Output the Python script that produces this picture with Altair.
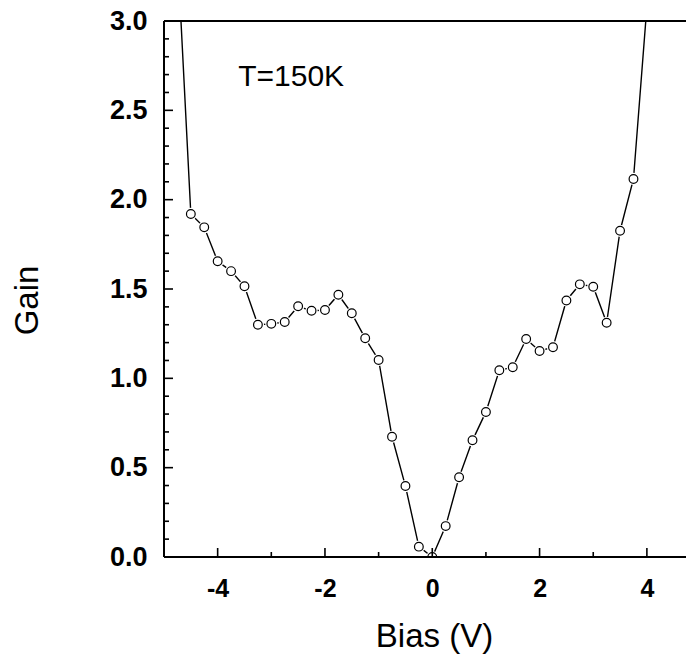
import altair as alt
import pandas as pd

# Data (Bias in V, Gain)
bias = [-4.75, -4.5, -4.25, -4.0, -3.75, -3.5, -3.25, -3.0, -2.75, -2.5, -2.25, -2.0,
        -1.75, -1.5, -1.25, -1.0, -0.75, -0.5, -0.25, 0.0, 0.25, 0.5, 0.75, 1.0,
        1.25, 1.5, 1.75, 2.0, 2.25, 2.5, 2.75, 3.0, 3.25, 3.5, 3.75, 4.0]
gain = [3.39, 1.92, 1.845, 1.655, 1.60, 1.515, 1.30, 1.305, 1.315, 1.403, 1.378, 1.382,
        1.468, 1.364, 1.224, 1.103, 0.673, 0.397, 0.058, 0.0, 0.173, 0.446, 0.653, 0.812,
        1.045, 1.062, 1.220, 1.153, 1.174, 1.436, 1.526, 1.513, 1.311, 1.826, 2.116, 3.08]

x_major = [-4, -2, 0, 2, 4]
x_minor = [-3, -1, 1, 3]
y_labels = [0.0, 0.5, 1.0, 1.5, 2.0, 2.5, 3.0]
y_major = [0.5, 1.0, 1.5, 2.0, 2.5]
y_minor = [0.1, 0.2, 0.3, 0.4, 0.6, 0.7, 0.8, 0.9, 1.1, 1.2, 1.3, 1.4,
           1.6, 1.7, 1.8, 1.9, 2.1, 2.2, 2.3, 2.4, 2.6, 2.7, 2.8, 2.9]

note_x = [-2.63]
note_y = [2.636]
note_text = ["T=150K"]

W, H = 522, 536
FONT = "Liberation Sans"

df = pd.DataFrame({"bias": bias, "gain": gain})
xs = alt.Scale(domain=[-5, 4.729], nice=False, zero=False)
ys = alt.Scale(domain=[0, 3], nice=False, zero=False)

x_axis = alt.Axis(values=x_major, labelExpr="toString(datum.value)", tickSize=0,
                  domain=False, labelPadding=19, labelFontSize=25,
                  labelFontWeight="bold", labelFont=FONT, labelColor="black",
                  grid=False, title="Bias (V)", titleFont=FONT, titleFontSize=33,
                  titleFontWeight="normal", titleColor="black", titleX=270, titleY=89,
                  titleBaseline="alphabetic", titleAlign="center")
y_axis = alt.Axis(values=y_labels, format=".1f", tickSize=0, domain=False,
                  labelPadding=17, labelFontSize=27, labelFontWeight="bold",
                  labelFont=FONT, labelColor="black", grid=False,
                  title="Gain", titleFont=FONT, titleFontSize=33,
                  titleFontWeight="normal", titleColor="black", titleX=-127, titleY=279,
                  titleAngle=-90, titleBaseline="alphabetic", titleAlign="center")

X = lambda f: alt.X(f, scale=xs, axis=x_axis)
Y = lambda f: alt.Y(f, scale=ys, axis=y_axis)

base = alt.Chart(df)
line = base.mark_line(color="black", strokeWidth=1.4, clip=True).encode(
    x=X("bias:Q"), y=Y("gain:Q"))
halo = base.mark_circle(color="white", size=150, opacity=1, clip=True).encode(
    x=X("bias:Q"), y=Y("gain:Q"))
markers = base.mark_point(shape="circle", fill="white", filled=False, stroke="black",
                          strokeWidth=1.2, size=76, opacity=1, fillOpacity=1,
                          clip=True).encode(x=X("bias:Q"), y=Y("gain:Q"))

def xtick(vals, length):
    return alt.Chart(pd.DataFrame({"bias": vals})).mark_rule(
        color="black", strokeWidth=1.6).encode(
        x=X("bias:Q"), y=alt.value(H - length), y2=alt.value(H))

def ytick(vals, length):
    return alt.Chart(pd.DataFrame({"gain": vals})).mark_rule(
        color="black", strokeWidth=1.6).encode(
        y=Y("gain:Q"), x=alt.value(0), x2=alt.value(length))

# plot frame: top, left and bottom edges (the right edge lies outside the picture)
frame_top = alt.Chart(pd.DataFrame({"gain": [3.0]})).mark_rule(
    color="black", strokeWidth=2).encode(
    y=Y("gain:Q"), x=alt.value(0), x2=alt.value(W))
frame_bottom = alt.Chart(pd.DataFrame({"gain": [0.0]})).mark_rule(
    color="black", strokeWidth=2).encode(
    y=Y("gain:Q"), x=alt.value(0), x2=alt.value(W))
frame_left = alt.Chart(pd.DataFrame({"bias": [-5.0]})).mark_rule(
    color="black", strokeWidth=2).encode(
    x=X("bias:Q"), y=alt.value(0), y2=alt.value(H))

note = alt.Chart(pd.DataFrame({"bias": note_x, "gain": note_y, "label": note_text})).mark_text(
    font=FONT, fontSize=30, color="black", align="center", baseline="alphabetic").encode(
    x=X("bias:Q"), y=Y("gain:Q"), text="label:N")

chart = alt.layer(
    line, halo, markers,
    xtick(x_major, 9), xtick(x_minor, 5), ytick(y_major, 9), ytick(y_minor, 5),
    frame_top, frame_bottom, frame_left, note,
).properties(
    width=W, height=H,
    padding={"left": 156, "top": 13, "right": 0, "bottom": 98},
    autosize=alt.AutoSizeParams(type="none"),
).configure_view(stroke=None).configure(background="white")

chart.save("out.html", embed_options={"renderer": "svg", "actions": False})
